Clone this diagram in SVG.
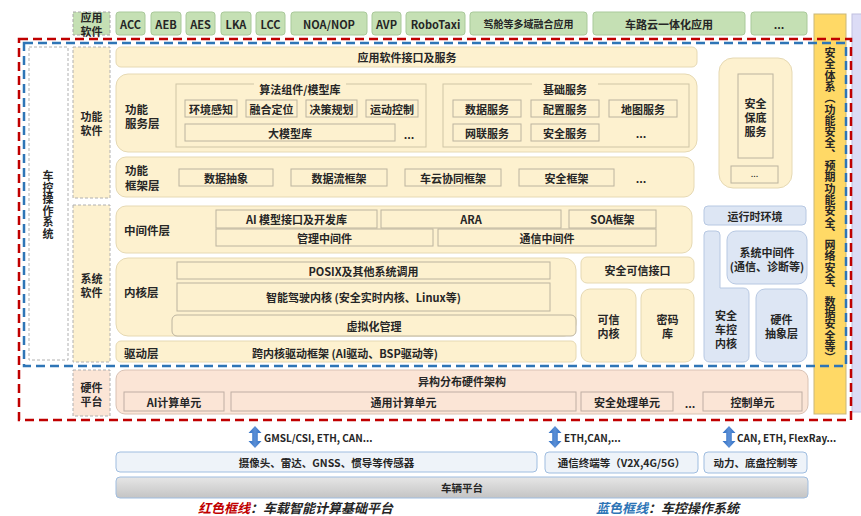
<svg xmlns="http://www.w3.org/2000/svg" width="861" height="516" viewBox="0 0 861 516">
<style>
text{font-family:"Noto Sans CJK SC","Noto Sans",sans-serif;font-weight:700;fill:#262626;font-size:11px;text-anchor:middle;dominant-baseline:central}
.l{text-anchor:start;font-size:11.5px}
.s{text-anchor:start;font-size:10px}
.v{font-size:11px}
.f10{font-size:10px}
.f105{font-size:10.5px}
.dots{font-size:9px;font-weight:400}
.lg{font-size:13px;font-style:italic;text-anchor:start}
.g{fill:#c5e0b4;stroke:#a9c99a;stroke-width:1}
.gd{fill:#c5e0b4;stroke:#a6a6a6;stroke-dasharray:3 2}
.y{fill:#fdf1cf;stroke:#e6d9b3;stroke-width:1}
.yi{fill:#fdf1cf;stroke:#bcb49f;stroke-width:1}
.yd{fill:#fdf1cf;stroke:#b0b0b0;stroke-dasharray:3 2}
.wd{fill:#fff;stroke:#b0b0b0;stroke-dasharray:3 2}
.b{fill:#dde6f4;stroke:#b7c8e2;stroke-width:1}
.h{fill:#fbe5d6;stroke:#d9c2b4;stroke-width:1}
.hd{fill:#fbe5d6;stroke:#b0b0b0;stroke-dasharray:3 2}
.hi{fill:#fbe5d6;stroke:#bfaea3;stroke-width:1}
.p{fill:#eef3f9;stroke:#9fbde0;stroke-width:1}
.red{fill:none;stroke:#c00000;stroke-width:2.5;stroke-dasharray:9 5}
.blue{fill:none;stroke:#2e75b6;stroke-width:2.5;stroke-dasharray:9 5}
</style>
<defs>
<linearGradient id="gray" x1="0" y1="0" x2="0" y2="1"><stop offset="0" stop-color="#e6e6e6"/><stop offset="1" stop-color="#c4c4c4"/></linearGradient>
<linearGradient id="arr" x1="0" y1="0" x2="1" y2="0"><stop offset="0" stop-color="#2f6fc4"/><stop offset="0.5" stop-color="#5b8fd6"/><stop offset="1" stop-color="#2f6fc4"/></linearGradient>
<path id="dbl" d="M0,-11 L6.5,-4 L2.8,-4 L2.8,4 L6.5,4 L0,11 L-6.5,4 L-2.8,4 L-2.8,-4 L-6.5,-4 Z" fill="url(#arr)"/>
</defs>

<!-- side columns -->
<g id="safety-system"><rect x="814" y="14" width="32" height="400" fill="#ffd966" stroke="#c9b77a"/>
<text class="v"><tspan x="830" y="52">安</tspan><tspan x="830" y="63.3">全</tspan><tspan x="830" y="74.6">体</tspan><tspan x="830" y="85.9">系</tspan><tspan x="830" y="97.2">︵</tspan><tspan x="830" y="108.5">功</tspan><tspan x="830" y="119.8">能</tspan><tspan x="830" y="131.1">安</tspan><tspan x="830" y="142.4">全</tspan><tspan x="830" y="153.7">︑</tspan><tspan x="830" y="165">预</tspan><tspan x="830" y="176.3">期</tspan><tspan x="830" y="187.6">功</tspan><tspan x="830" y="198.9">能</tspan><tspan x="830" y="210.2">安</tspan><tspan x="830" y="221.5">全</tspan><tspan x="830" y="232.8">︑</tspan><tspan x="830" y="244.1">网</tspan><tspan x="830" y="255.4">络</tspan><tspan x="830" y="266.7">安</tspan><tspan x="830" y="278">全</tspan><tspan x="830" y="289.3">︑</tspan><tspan x="830" y="300.6">数</tspan><tspan x="830" y="311.9">据</tspan><tspan x="830" y="323.2">安</tspan><tspan x="830" y="334.5">全</tspan><tspan x="830" y="345.8">等</tspan><tspan x="830" y="357.1">︶</tspan></text></g>
<g id="right-column"><rect x="852" y="14" width="12" height="398" fill="#dcdcf6" stroke="#c0c0e0"/></g>

<!-- app software row -->
<g id="app-label"><rect class="gd" x="73" y="12" width="37" height="23"/><text x="91.5" y="16.5">应用</text><text x="91.5" y="30.5">软件</text></g>
<g id="app-acc"><rect class="g" x="116" y="12" width="29" height="23" rx="3"/><text x="130.5" y="23.5">ACC</text></g>
<g id="app-aeb"><rect class="g" x="151" y="12" width="30" height="23" rx="3"/><text x="166" y="23.5">AEB</text></g>
<g id="app-aes"><rect class="g" x="186" y="12" width="29" height="23" rx="3"/><text x="200.5" y="23.5">AES</text></g>
<g id="app-lka"><rect class="g" x="221" y="12" width="30" height="23" rx="3"/><text x="236" y="23.5">LKA</text></g>
<g id="app-lcc"><rect class="g" x="256" y="12" width="29" height="23" rx="3"/><text x="270.5" y="23.5">LCC</text></g>
<g id="app-noa"><rect class="g" x="291" y="12" width="76" height="23" rx="3"/><text x="329" y="23.5">NOA/NOP</text></g>
<g id="app-avp"><rect class="g" x="372" y="12" width="29" height="23" rx="3"/><text x="386.5" y="23.5">AVP</text></g>
<g id="app-robotaxi"><rect class="g" x="406" y="12" width="59" height="23" rx="3"/><text x="435.5" y="23.5">RoboTaxi</text></g>
<g id="app-multi"><rect class="g" x="470" y="12" width="117" height="23" rx="3"/><text class="f10" x="528.5" y="23.5">驾舱等多域融合应用</text></g>
<g id="app-v2x"><rect class="g" x="593" y="12" width="152" height="23" rx="3"/><text x="669" y="23.5">车路云一体化应用</text></g>
<g id="app-more"><rect class="g" x="751" y="12" width="56" height="23" rx="3"/><text x="779" y="23.5">...</text></g>

<!-- left labels -->
<g id="os-label"><rect class="wd" x="29" y="47" width="39" height="313"/>
<text class="v"><tspan x="48" y="175">车</tspan><tspan x="48" y="186.5">控</tspan><tspan x="48" y="198">操</tspan><tspan x="48" y="209.5">作</tspan><tspan x="48" y="221">系</tspan><tspan x="48" y="232.5">统</tspan></text></g>
<g id="func-sw-label"><rect class="yd" x="73" y="47" width="37" height="151"/><text x="91.5" y="116">功能</text><text x="91.5" y="130">软件</text></g>
<g id="sys-sw-label"><rect class="yd" x="73" y="205" width="37" height="157"/><text x="91.5" y="278">系统</text><text x="91.5" y="292">软件</text></g>
<g id="hw-label"><rect class="hd" x="73" y="370" width="37" height="46"/><text x="91.5" y="386.5">硬件</text><text x="91.5" y="401">平台</text></g>

<!-- functional software -->
<g id="app-interface"><rect class="y" x="116" y="47" width="581" height="20" rx="5"/><text x="407" y="57">应用软件接口及服务</text></g>
<g id="func-service-layer">
<rect class="y" x="116" y="74" width="581" height="78" rx="12"/>
<text class="l" x="125" y="108.5">功能</text><text class="l" x="125" y="123">服务层</text>
<rect fill="none" stroke="#cfc5a6" x="176" y="84" width="250" height="63"/>
<rect fill="#fdf1cf" x="254" y="80" width="92" height="8"/>
<text x="300" y="89">算法组件/模型库</text>
<rect class="yi" x="185" y="100" width="52" height="17"/><text x="211" y="108.5">环境感知</text>
<rect class="yi" x="246" y="100" width="51" height="17"/><text x="271.5" y="108.5">融合定位</text>
<rect class="yi" x="306" y="100" width="51" height="17"/><text x="331.5" y="108.5">决策规划</text>
<rect class="yi" x="366" y="100" width="52" height="17"/><text x="392" y="108.5">运动控制</text>
<rect class="yi" x="185" y="124" width="210" height="17"/><text x="290" y="132.5">大模型库</text>
<text x="409" y="134">...</text>
<rect fill="none" stroke="#cfc5a6" x="443" y="84" width="246" height="63"/>
<rect fill="#fdf1cf" x="532" y="80" width="66" height="8"/>
<text x="565" y="89">基础服务</text>
<rect class="yi" x="453" y="100" width="68" height="17"/><text x="487" y="108.5">数据服务</text>
<rect class="yi" x="531" y="100" width="68" height="17"/><text x="565" y="108.5">配置服务</text>
<rect class="yi" x="609" y="100" width="68" height="17"/><text x="643" y="108.5">地图服务</text>
<rect class="yi" x="453" y="124" width="68" height="17"/><text x="487" y="132.5">网联服务</text>
<rect class="yi" x="531" y="124" width="68" height="17"/><text x="565" y="132.5">安全服务</text>
<text x="641" y="133">...</text>
</g>
<g id="func-framework-layer">
<rect class="y" x="116" y="157" width="578" height="40" rx="10"/>
<text class="l" x="125" y="170">功能</text><text class="l" x="125" y="184.5">框架层</text>
<rect class="yi" x="179" y="169" width="94" height="17"/><text x="226" y="177.5">数据抽象</text>
<rect class="yi" x="291" y="169" width="96" height="17"/><text x="339" y="177.5">数据流框架</text>
<rect class="yi" x="405" y="169" width="96" height="17"/><text x="453" y="177.5">车云协同框架</text>
<rect class="yi" x="519" y="169" width="95" height="17"/><text x="566.5" y="177.5">安全框架</text>
<text x="641" y="178">...</text>
</g>
<g id="safety-fallback">
<rect class="y" x="719" y="58" width="73" height="130" rx="14"/>
<rect class="yi" x="738" y="74" width="35" height="84"/>
<text x="755.5" y="103">安全</text><text x="755.5" y="117">保底</text><text x="755.5" y="131">服务</text>
<rect class="yi" x="731" y="166" width="47" height="17"/><text class="dots" x="754.5" y="173">...</text>
</g>

<!-- system software -->
<g id="middleware-layer">
<rect class="y" x="116" y="206" width="576" height="47" rx="10"/>
<text class="l" x="124" y="230">中间件层</text>
<rect class="yi" x="216" y="210" width="161" height="18"/><text x="296.5" y="219">AI 模型接口及开发库</text>
<rect class="yi" x="381" y="210" width="180" height="18"/><text x="471" y="219">ARA</text>
<rect class="yi" x="569" y="210" width="87" height="18"/><text x="612.5" y="219">SOA框架</text>
<rect class="yi" x="216" y="229" width="217" height="17"/><text x="324.5" y="237.5">管理中间件</text>
<rect class="yi" x="438" y="229" width="218" height="17"/><text x="547" y="237.5">通信中间件</text>
</g>
<g id="kernel-layer">
<rect class="y" x="116" y="258" width="460" height="78" rx="12"/>
<text class="l" x="124" y="292">内核层</text>
<rect class="yi" x="177" y="262" width="373" height="17"/><text x="363.5" y="270.5">POSIX及其他系统调用</text>
<rect class="yi" x="177" y="283" width="373" height="28"/><text x="363.5" y="297">智能驾驶内核 (安全实时内核、Linux等)</text>
<rect class="yi" x="172" y="315" width="404" height="21" rx="5" stroke="#cfc6ad"/><text x="374" y="326">虚拟化管理</text>
</g>
<g id="driver-layer">
<rect class="y" x="116" y="341" width="460" height="21" rx="5" stroke="#d6cba9"/>
<text class="l" x="124" y="353">驱动层</text>
<text x="345" y="352.5">跨内核驱动框架 (AI驱动、BSP驱动等)</text>
</g>
<g id="trusted-interface"><rect class="y" x="581" y="257" width="113" height="26" rx="6" stroke="#d9cda9"/><text x="637.5" y="270">安全可信接口</text></g>
<g id="trusted-kernel"><rect class="y" x="581" y="289" width="55" height="73" rx="9" stroke="#d9cda9"/><text x="608.5" y="319">可信</text><text x="608.5" y="333">内核</text></g>
<g id="crypto-lib"><rect class="y" x="641" y="289" width="53" height="73" rx="9" stroke="#d9cda9"/><text x="667.5" y="319">密码</text><text x="667.5" y="333">库</text></g>
<g id="runtime-env"><rect class="b" x="704" y="206" width="102" height="19" rx="4"/><text x="755" y="215.5">运行时环境</text></g>
<g id="safety-kernel"><path class="b" d="M708,231 L716,231 Q720,231 720,235 L720,288 L743,288 Q749,288 749,294 L749,356 Q749,362 743,362 L710,362 Q704,362 704,356 L704,235 Q704,231 708,231 Z"/><text x="726" y="315">安全</text><text x="726" y="329">车控</text><text x="726" y="343">内核</text></g>
<g id="sys-middleware"><rect class="b" x="727" y="231" width="80" height="53" rx="9"/><text x="767" y="252">系统中间件</text><text x="767" y="265.5">(通信、诊断等)</text></g>
<g id="hal"><rect class="b" x="756" y="289" width="51" height="73" rx="9"/><text x="781.5" y="319">硬件</text><text x="781.5" y="333">抽象层</text></g>

<!-- hardware platform -->
<g id="hw-arch">
<rect class="h" x="116" y="370" width="692" height="44" rx="9"/>
<text x="462" y="381">异构分布硬件架构</text>
<rect class="hi" x="124" y="392" width="100" height="19"/><text x="174" y="401.5">AI计算单元</text>
<rect class="hi" x="231" y="392" width="345" height="19"/><text x="403.5" y="401.5">通用计算单元</text>
<rect class="hi" x="581" y="392" width="92" height="19"/><text x="627" y="401.5">安全处理单元</text>
<text x="690" y="403">...</text>
<rect class="hi" x="703" y="392" width="99" height="19"/><text x="752.5" y="401.5">控制单元</text>
</g>

<!-- frames -->
<rect class="blue" x="24" y="43" width="822" height="323"/>
<rect class="red" x="19" y="39" width="832" height="381"/>

<!-- vehicle side -->
<g id="sensors"><rect class="p" x="116" y="452" width="421" height="20" rx="4"/><text class="f105" x="326.5" y="462">摄像头、雷达、GNSS、惯导等传感器</text></g>
<g id="comm-terminal"><rect class="p" x="545" y="452" width="153" height="21" rx="4"/><text class="f105" x="621.5" y="462.5">通信终端等（V2X,4G/5G）</text></g>
<g id="powertrain"><rect class="p" x="704" y="452" width="103" height="21" rx="4"/><text class="f105" x="755.5" y="462.5">动力、底盘控制等</text></g>
<g id="vehicle-platform"><rect x="116" y="477" width="692" height="21" rx="4" fill="url(#gray)" stroke="#9fbde0"/><text class="f105" x="462" y="487.5">车辆平台</text></g>

<g id="connectors">
<use href="#dbl" x="255" y="437"/><text class="s" x="264" y="437.5">GMSL/CSI, ETH, CAN...</text>
<use href="#dbl" x="555" y="437"/><text class="s" x="564" y="437.5">ETH,CAN,...</text>
<use href="#dbl" x="729" y="437"/><text class="s" x="737" y="437.5">CAN, ETH, FlexRay...</text>
</g>

<!-- legend -->
<g id="legend">
<text class="lg" x="198" y="507"><tspan fill="#c00000">红色框线</tspan><tspan>：车载智能计算基础平台</tspan></text>
<text class="lg" x="596" y="507"><tspan fill="#2e75b6">蓝色框线</tspan><tspan>：车控操作系统</tspan></text>
</g>
</svg>
